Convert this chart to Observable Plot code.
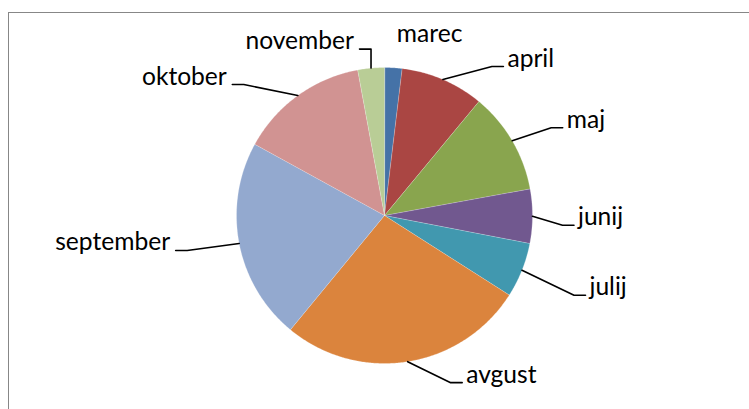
<!DOCTYPE html>
<html><head><meta charset="utf-8">
<script src="https://cdn.jsdelivr.net/npm/d3@7"></script>
<script src="https://cdn.jsdelivr.net/npm/@observablehq/plot@0.6"></script>
<style>
html,body{margin:0;padding:0;background:#fff;overflow:hidden;}
#wrap{position:relative;width:749px;height:409px;overflow:hidden;}
#frame{position:absolute;left:8px;top:12px;width:800px;height:500px;border:1px solid #878787;box-sizing:border-box;}
#chart{position:absolute;left:0;top:0;}
</style></head><body>
<div id="wrap"><div id="frame"></div><div id="chart"></div></div>
<script>
// data
const months = ["marec","april","maj","junij","julij","avgust","september","oktober","november"];
const shares = [1.9, 9.1, 11.1, 5.9, 6.0, 26.9, 22.0, 14.1, 2.9];
const colors = ["#4572A7","#AA4643","#89A54E","#71588F","#4198AF","#DB843D","#93A9CF","#D19392","#B9CD96"];
// label layout (leader elbow offset from slice edge, px)
const labelDx = [-12, 49, 39, 30, 52, 43, -52, -54, 0];
const labelDy = [-26, -13, -13, 9, 25, 21, 7, -11, -19];
const hasLeader = [false, true, true, true, true, true, true, true, true];

const W = 749, H = 409, cx = 384, cy = 215, R = 148;

const arcs = d3.pie().sort(null).value(d => d)(shares);
const slicePts = [];
arcs.forEach((a, i) => {
  slicePts.push({m: months[i], x: 0, y: 0});
  const n = Math.max(2, Math.ceil((a.endAngle - a.startAngle) / (Math.PI / 360)));
  for (let k = 0; k <= n; k++) {
    const t = a.startAngle + (a.endAngle - a.startAngle) * k / n;
    slicePts.push({m: months[i], x: Math.sin(t), y: Math.cos(t)});
  }
});

const ctx = document.createElement("canvas").getContext("2d");
const FONT = "Lato, 'Open Sans', sans-serif";
ctx.font = "100px " + FONT;
const fs = 100 * 115 / ctx.measureText("september").width;

const leaderPts = [];
const labels = [];
arcs.forEach((a, i) => {
  const mid = (a.startAngle + a.endAngle) / 2;
  const ex = Math.sin(mid), ey = Math.cos(mid);
  const bx = ex + labelDx[i] / R, by = ey - labelDy[i] / R;
  const side = Math.sin(mid) >= -0.01 ? 1 : -1;
  if (hasLeader[i]) {
    leaderPts.push({m: months[i], x: ex, y: ey});
    leaderPts.push({m: months[i], x: bx, y: by});
    leaderPts.push({m: months[i], x: bx + side * 11.5 / R, y: by});
  }
  labels.push({m: months[i], side, x: bx + side * (side > 0 ? 15.5 : 17) / R, y: by + 0.32 * fs / R});
});

const chart = Plot.plot({
  width: W, height: H, margin: 0,
  x: {domain: [-cx / R, (W - cx) / R], axis: null},
  y: {domain: [-(H - cy) / R, cy / R], axis: null},
  color: {domain: months, range: colors},
  style: {fontFamily: FONT, background: "transparent", color: "#000"},
  marks: [
    Plot.line(slicePts, {x: "x", y: "y", z: "m", fill: "m", stroke: "#fff", strokeWidth: 0.5, strokeOpacity: 0.45, curve: "linear-closed"}),
    Plot.line(leaderPts, {x: "x", y: "y", z: "m", stroke: "#000", strokeWidth: 1.6, curve: "linear"}),
    Plot.text(labels.filter(d => d.side > 0), {x: "x", y: "y", text: "m", textAnchor: "start", lineAnchor: "middle", fontSize: fs, fill: "#000"}),
    Plot.text(labels.filter(d => d.side < 0), {x: "x", y: "y", text: "m", textAnchor: "end", lineAnchor: "middle", fontSize: fs, fill: "#000"})
  ]
});
document.getElementById("chart").appendChild(chart);
</script>
</body></html>
